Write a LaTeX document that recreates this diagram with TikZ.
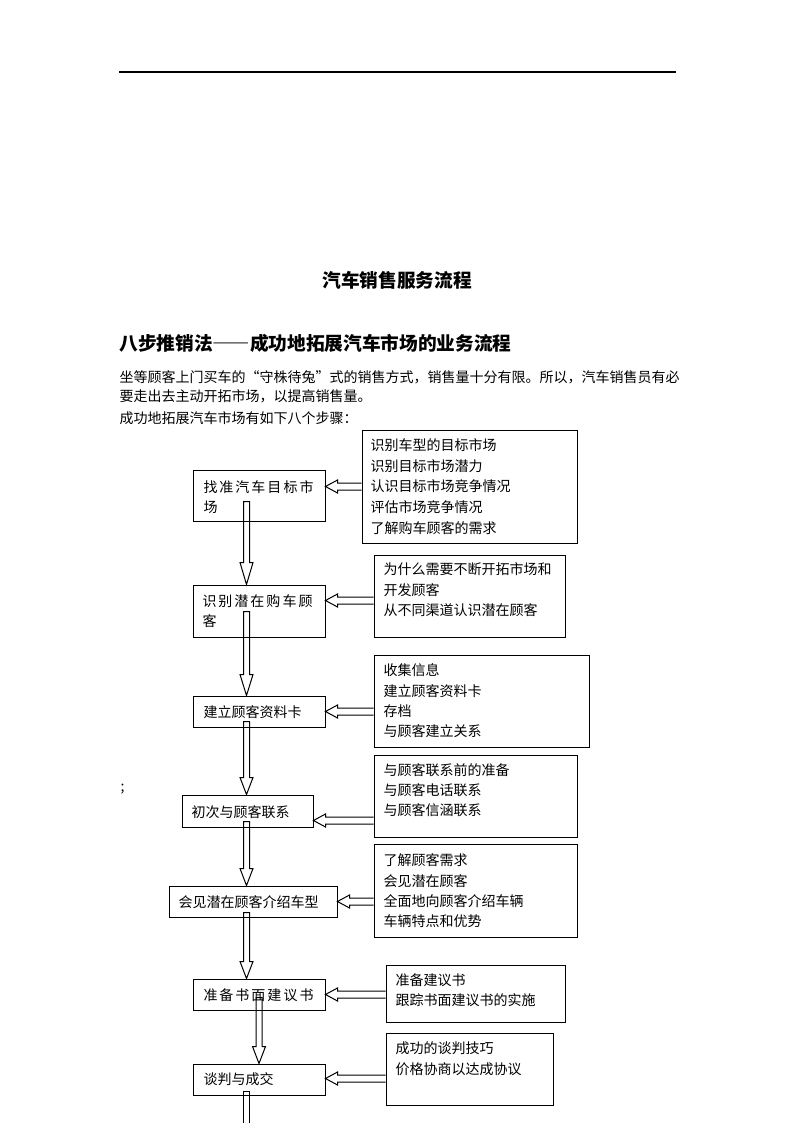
\documentclass[tikz,border=0pt]{standalone}
\usepackage{fontspec}
\setmainfont{Noto Sans CJK SC}
\usetikzlibrary{calc,fit}
\newcommand\gp{\kern1.5pt}
\newcommand\fwq[1]{{\addfontfeatures{CharacterWidth=Full}#1}}
% vertical hollow block arrow: #1 start, #2 tip, #3 head length
\newcommand\varrowblk[3]{%
  \draw[blk] ($(#1)+(-3,0)$) -- ($(#2)+(-3,-#3)$) -- ($(#2)+(-6.5,-#3)$) -- (#2)
    -- ($(#2)+(6.5,-#3)$) -- ($(#2)+(3,-#3)$) -- ($(#1)+(3,0)$) -- cycle;}
% horizontal hollow block arrow pointing left: #1 start (right), #2 tip (left)
\newcommand\harrowblk[2]{%
  \draw[blk] ($(#1)+(0,-3.5)$) -- ($(#2)+(12,-3.5)$) -- ($(#2)+(12,-6.5)$) -- (#2)
    -- ($(#2)+(12,6.5)$) -- ($(#2)+(12,3.5)$) -- ($(#1)+(0,3.5)$);}
\begin{document}
\begin{tikzpicture}[x=0.75pt,y=-0.75pt,line width=0.75pt,
  box/.style={draw, inner sep=0pt, line width=0.75pt},
  txt/.style={anchor=west, inner sep=0pt, font=\fontsize{10.5pt}{15pt}\selectfont, text height=0.8em, text depth=0.1em},
  bigtxt/.style={inner sep=0pt, font=\fontsize{14pt}{18pt}\selectfont\bfseries, text height=0.8em, text depth=0.1em},
  blk/.style={draw, line width=0.75pt, line join=miter}]
\fill[white] (0,0) rectangle (794,1123);
\useasboundingbox (0,0) rectangle (794,1123);
% header rule
\draw[line width=1.1pt] (119,72) -- (676,72);
% titles and intro text
\node[bigtxt] (title) at (397,283) {汽车销售服务流程};
\node[bigtxt, anchor=west] (heading) at (119,346) {八步推销法\fwq{——}成功地拓展汽车市场的业务流程};
\node[txt] (p1) at (119,378) {坐等顾客上门买车的\fwq{“}守株待兔\fwq{”}式的销售方式，销售量十分有限。所以，汽车销售员有必};
\node[txt] (p2) at (119,397) {要走出去主动开拓市场，以提高销售量。};
\node[txt] (p3) at (119,419) {成功地拓展汽车市场有如下八个步骤：};
\node[txt] (semi) at (120,787) {;};
% step boxes
\node[box, fit={(193,470) (325,521)}] (b1) {};
\node[box, fit={(193,585) (325,637)}] (b2) {};
\node[box, fit={(193,696) (325,727)}] (b3) {};
\node[box, fit={(182,795) (313,827)}] (b4) {};
\node[box, fit={(169,886) (337,917)}] (b5) {};
\node[box, fit={(193,979) (325,1010)}] (b6) {};
\node[box, fit={(193,1064) (325,1095)}] (b7) {};
\node[txt] (b1a) at (203,488) {找\gp 准\gp 汽\gp 车\gp 目\gp 标\gp 市};
\node[txt] (b1b) at (203,508) {场};
\node[txt] (b2a) at (202,602) {识\gp 别\gp 潜\gp 在\gp 购\gp 车\gp 顾};
\node[txt] (b2b) at (202,622) {客};
\node[txt] (b3a) at (203,713) {建立顾客资料卡};
\node[txt] (b4a) at (191,813) {初次与顾客联系};
\node[txt] (b5a) at (178,903) {会见潜在顾客介绍车型};
\node[txt] (b6a) at (203,996) {准\gp 备\gp 书\gp 面\gp 建\gp 议\gp 书};
\node[txt] (b7a) at (203,1080) {谈判与成交};
% detail boxes
\node[box, fit={(362,430) (577,543)}] (r1) {};
\node[box, fit={(374,555) (565,637)}] (r2) {};
\node[box, fit={(374,655) (589,747)}] (r3) {};
\node[box, fit={(374,755) (577,837)}] (r4) {};
\node[box, fit={(374,844) (577,937)}] (r5) {};
\node[box, fit={(386,965) (565,1022)}] (r6) {};
\node[box, fit={(386,1033) (553,1105)}] (r7) {};
\node[txt] (r1a) at (370,446) {识别车型的目标市场};
\node[txt] (r1b) at (370,467) {识别目标市场潜力};
\node[txt] (r1c) at (370,487) {认识目标市场竞争情况};
\node[txt] (r1d) at (370,508) {评估市场竞争情况};
\node[txt] (r1e) at (370,529) {了解购车顾客的需求};
\node[txt] (r2a) at (383,570) {为什么需要不断开拓市场和};
\node[txt] (r2b) at (383,591) {开发顾客};
\node[txt] (r2c) at (383,611) {从不同渠道认识潜在顾客};
\node[txt] (r3a) at (383,671) {收集信息};
\node[txt] (r3b) at (383,692) {建立顾客资料卡};
\node[txt] (r3c) at (383,712) {存档};
\node[txt] (r3d) at (383,732) {与顾客建立关系};
\node[txt] (r4a) at (383,771) {与顾客联系前的准备};
\node[txt] (r4b) at (383,791) {与顾客电话联系};
\node[txt] (r4c) at (383,811) {与顾客信涵联系};
\node[txt] (r5a) at (383,861) {了解顾客需求};
\node[txt] (r5b) at (383,882) {会见潜在顾客};
\node[txt] (r5c) at (383,902) {全面地向顾客介绍车辆};
\node[txt] (r5d) at (383,922) {车辆特点和优势};
\node[txt] (r6a) at (395,981) {准备建议书};
\node[txt] (r6b) at (395,1001) {跟踪书面建议书的实施};
\node[txt] (r7a) at (395,1049) {成功的谈判技巧};
\node[txt] (r7b) at (395,1070) {价格协商以达成协议};
% vertical arrows
\coordinate (v1s) at ($(b1.north west)+(54,32)$);
\coordinate (v1e) at (v1s |- b2.north);
\varrowblk{v1s}{v1e}{22}
\coordinate (v2s) at ($(b2.north west)+(54,27)$);
\coordinate (v2e) at (v2s |- b3.north);
\varrowblk{v2s}{v2e}{21}
\coordinate (v3s) at ($(b3.north west)+(54,26)$);
\coordinate (v3e) at (v3s |- b4.north);
\varrowblk{v3s}{v3e}{17}
\coordinate (v4s) at ($(b4.north west)+(65,27)$);
\coordinate (v4e) at (v4s |- b5.north);
\varrowblk{v4s}{v4e}{17}
\coordinate (v5s) at ($(b5.north west)+(78,27)$);
\coordinate (v5e) at (v5s |- b6.north);
\varrowblk{v5s}{v5e}{17}
\coordinate (v6s) at ($(b6.north west)+(66.5,19)$);
\coordinate (v6e) at (v6s |- b7.north);
\varrowblk{v6s}{v6e}{17}
\coordinate (v7s) at ($(b7.north west)+(54,28)$);
\coordinate (v7e) at ($(v7s)+(0,40)$);
\draw[blk] ($(v7e)+(-3,0)$) -- ($(v7s)+(-3,0)$) -- ($(v7s)+(3,0)$) -- ($(v7e)+(3,0)$);
% horizontal arrows
\coordinate (h1s) at ($(r1.north west)+(0,57)$);
\coordinate (h1e) at (h1s -| b1.east);
\harrowblk{h1s}{h1e}
\coordinate (h2s) at ($(r2.north west)+(0,46)$);
\coordinate (h2e) at (h2s -| b2.east);
\harrowblk{h2s}{h2e}
\coordinate (h3s) at ($(r3.north west)+(0,57)$);
\coordinate (h3e) at (h3s -| b3.east);
\harrowblk{h3s}{h3e}
\coordinate (h4s) at ($(r4.north west)+(0,66)$);
\coordinate (h4e) at (h4s -| b4.east);
\harrowblk{h4s}{h4e}
\coordinate (h5s) at ($(r5.north west)+(0,58)$);
\coordinate (h5e) at (h5s -| b5.east);
\harrowblk{h5s}{h5e}
\coordinate (h6s) at ($(r6.north west)+(0,30)$);
\coordinate (h6e) at (h6s -| b6.east);
\harrowblk{h6s}{h6e}
\coordinate (h7s) at ($(r7.north west)+(0,46)$);
\coordinate (h7e) at (h7s -| b7.east);
\harrowblk{h7s}{h7e}
\end{tikzpicture}
\end{document}
